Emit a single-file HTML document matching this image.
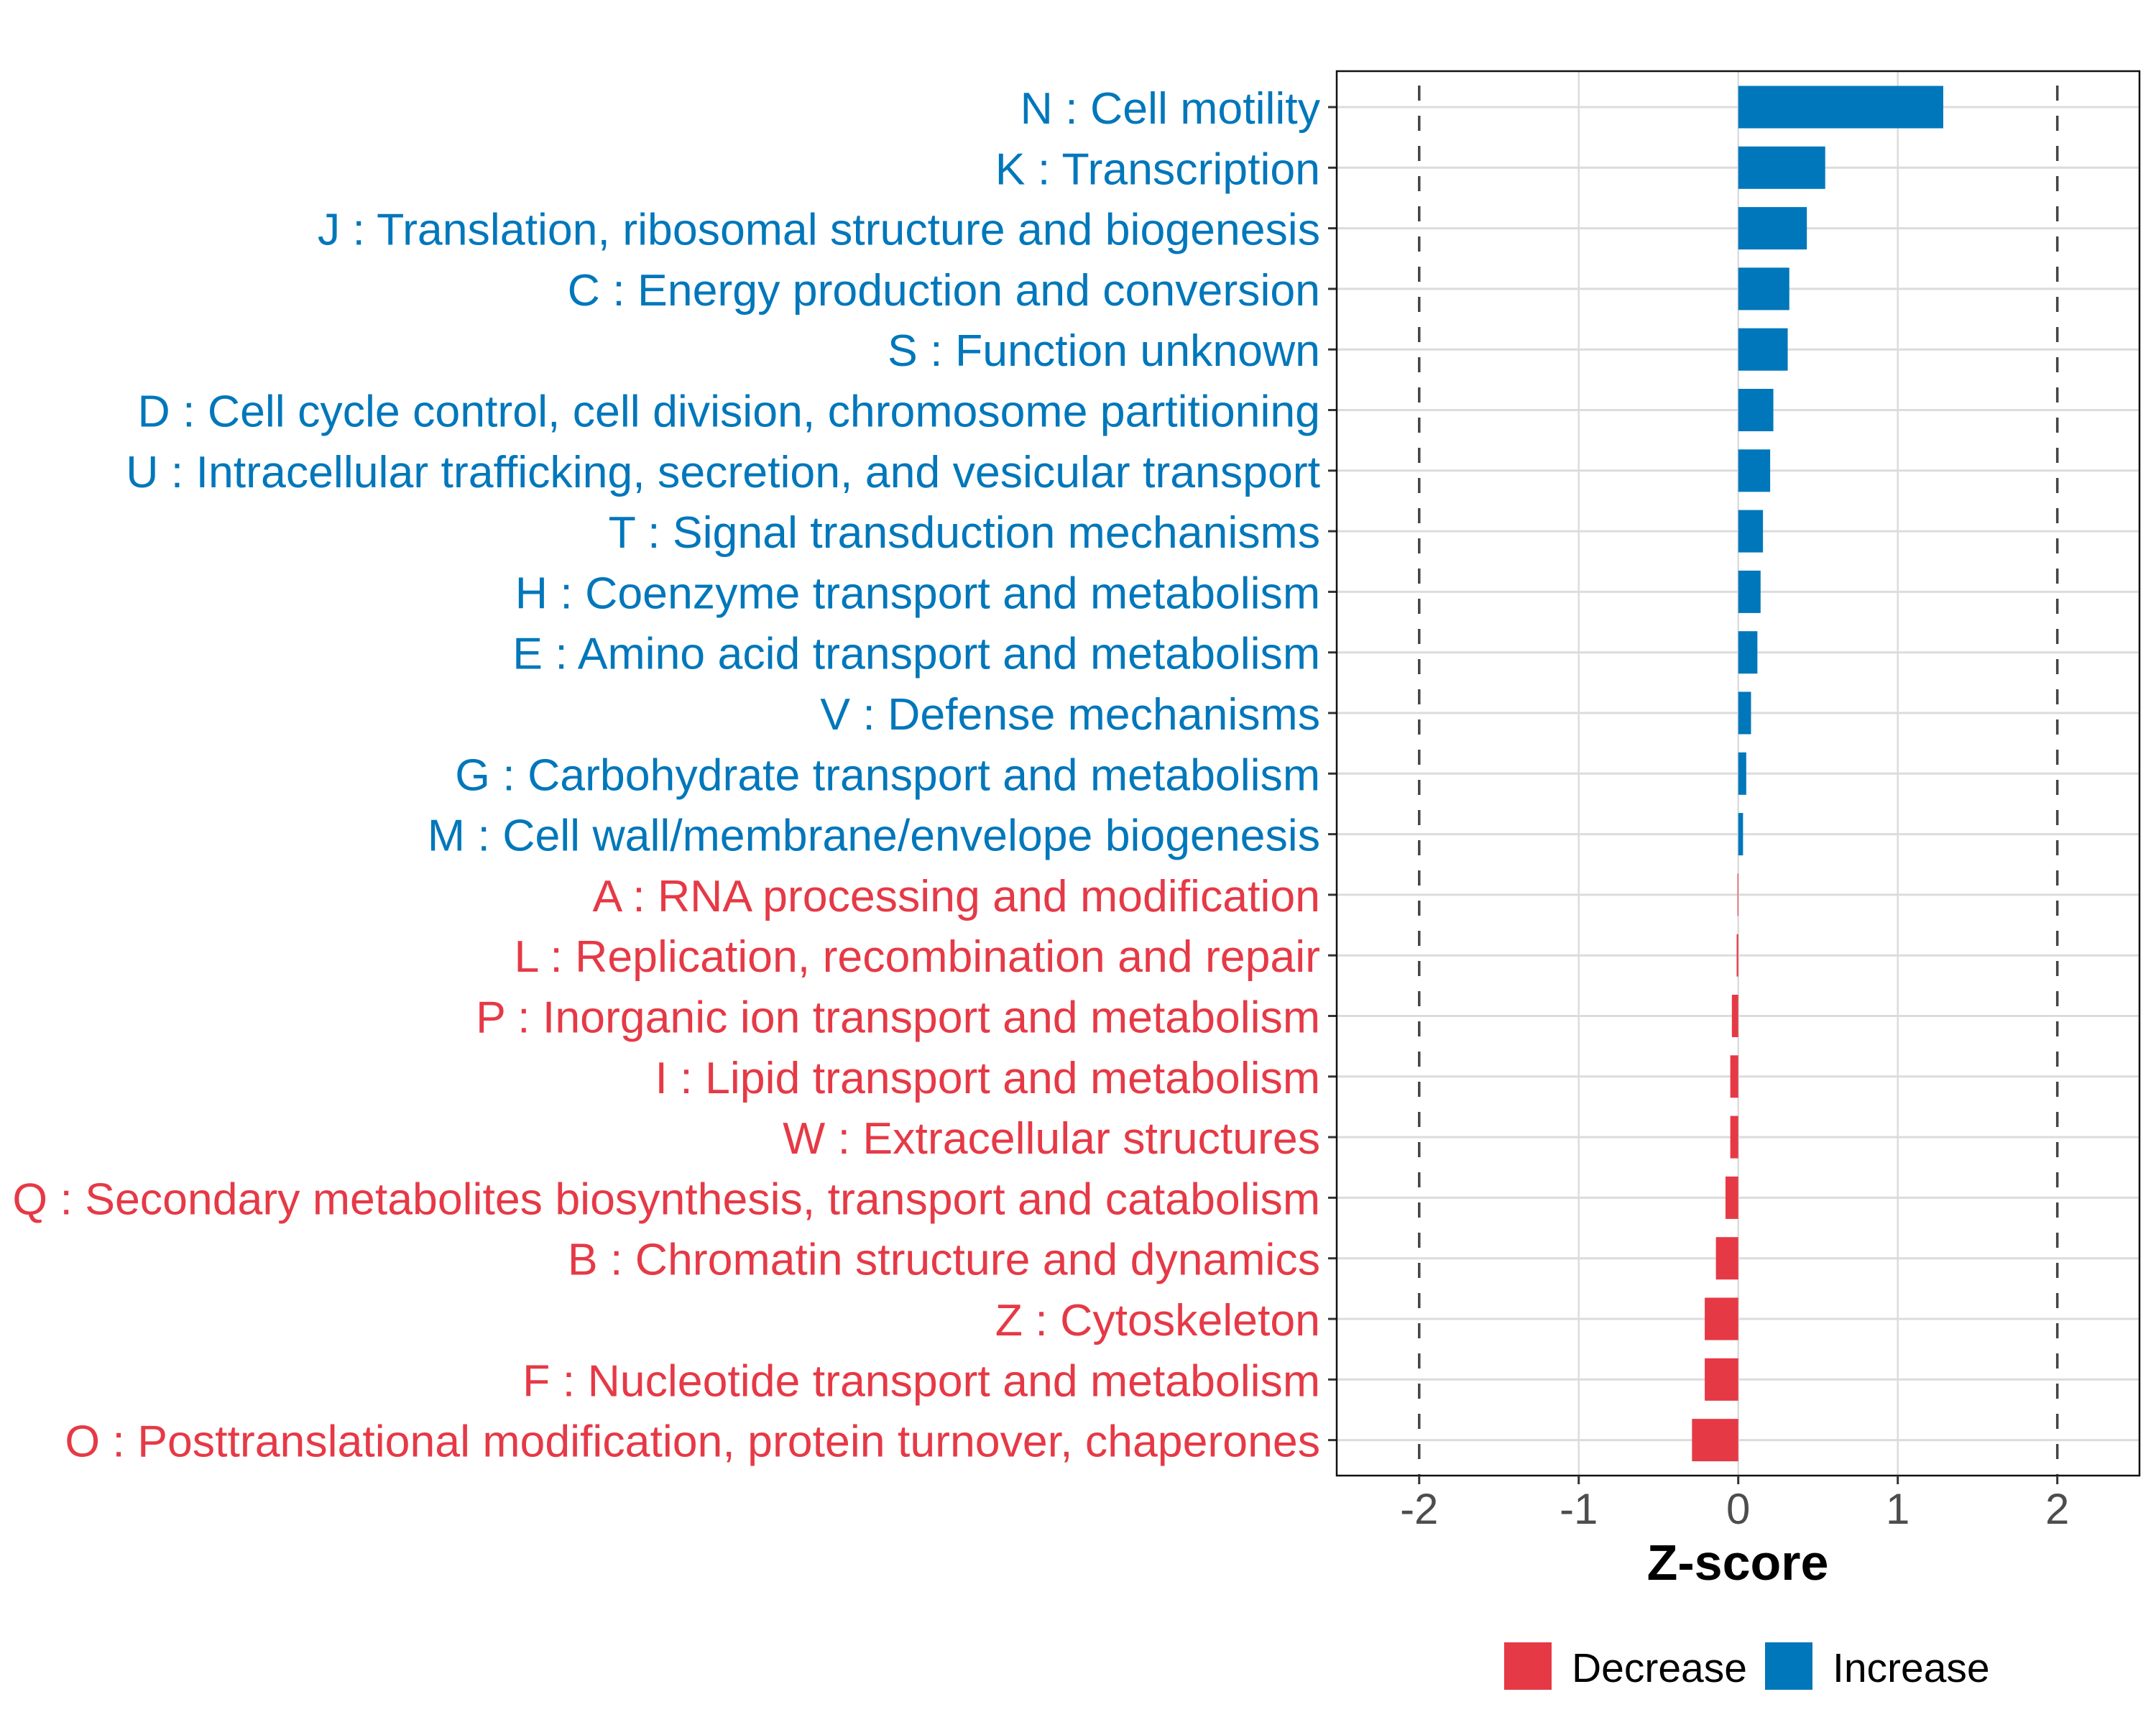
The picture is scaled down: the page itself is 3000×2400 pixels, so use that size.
<!DOCTYPE html>
<html><head><meta charset="utf-8"><style>
html,body{margin:0;padding:0;background:#fff;}
svg{display:block;font-family:"Liberation Sans",Arial,sans-serif;}
</style></head><body>
<svg id="chart" width="3000" height="2400" viewBox="0 0 3000 2400" xmlns="http://www.w3.org/2000/svg">
<rect x="0" y="0" width="3000" height="2400" fill="#fff"/>
<g id="grid"></g>
<g id="bars"></g>
<g id="ylabels"></g>
<g id="xaxis"></g>
<text x="2418" y="2198" font-size="70" font-weight="bold" text-anchor="middle" fill="#000">Z-score</text>
<g>
<rect x="2093" y="2285" width="66" height="66" fill="#E63946"/>
<text x="2187" y="2340" font-size="57" fill="#000">Decrease</text>
<rect x="2456" y="2285" width="66" height="66" fill="#0077BB"/>
<text x="2550" y="2340" font-size="57" fill="#000">Increase</text>
</g>
</svg>
<script>
const categories = [
"N : Cell motility","K : Transcription","J : Translation, ribosomal structure and biogenesis",
"C : Energy production and conversion","S : Function unknown",
"D : Cell cycle control, cell division, chromosome partitioning",
"U : Intracellular trafficking, secretion, and vesicular transport",
"T : Signal transduction mechanisms","H : Coenzyme transport and metabolism",
"E : Amino acid transport and metabolism","V : Defense mechanisms",
"G : Carbohydrate transport and metabolism","M : Cell wall/membrane/envelope biogenesis",
"A : RNA processing and modification","L : Replication, recombination and repair",
"P : Inorganic ion transport and metabolism","I : Lipid transport and metabolism",
"W : Extracellular structures","Q : Secondary metabolites biosynthesis, transport and catabolism",
"B : Chromatin structure and dynamics","Z : Cytoskeleton","F : Nucleotide transport and metabolism",
"O : Posttranslational modification, protein turnover, chaperones"];
const zscores = [1.285,0.545,0.43,0.32,0.31,0.22,0.20,0.155,0.14,0.12,0.08,0.05,0.03,-0.005,-0.01,-0.04,-0.05,-0.05,-0.08,-0.14,-0.21,-0.21,-0.29];
const xTicks = [-2,-1,0,1,2];
const xTickLabels = ["-2","-1","0","1","2"];
const thresholds = [-2,2];

const NS="http://www.w3.org/2000/svg";
const P={l:1860,r:2977,t:99,b:2053};
const xMin=-2.517,xMax=2.515;
function xs(v){return P.l+(v-xMin)/(xMax-xMin)*(P.r-P.l);}
const rowStep=84.3, row0=149;
function ys(i){return row0+i*rowStep;}
function mk(tag,attrs,parent){const e=document.createElementNS(NS,tag);for(const k in attrs)e.setAttribute(k,attrs[k]);parent.appendChild(e);return e;}
const grid=document.getElementById('grid'),bars=document.getElementById('bars'),yl=document.getElementById('ylabels'),xa=document.getElementById('xaxis');
xTicks.forEach(function(t){
  if(thresholds.indexOf(t)<0){
    const l=mk('line',{x1:xs(t),x2:xs(t),y1:P.t,y2:P.b,stroke:'#dcdcdc','stroke-width':2.5},grid);
    
    
  }
});
categories.forEach(function(c,i){
  const l=mk('line',{x1:P.l,x2:P.r,y1:ys(i),y2:ys(i),stroke:'#dcdcdc','stroke-width':3},grid);
  
  
});
categories.forEach(function(c,i){
  const v=zscores[i];const x0=xs(0),x1=xs(v);
  const r=mk('rect',{x:Math.min(x0,x1),y:ys(i)-29.5,width:Math.max(Math.abs(x1-x0),1),height:59,fill:v>=0?'#0077BB':'#E63946'},bars);
  
  
  const t=mk('text',{x:1837,y:ys(i)+23,'font-size':62.6,'text-anchor':'end',fill:v>=0?'#0077BB':'#E63946'},yl);
  t.textContent=c;
  
  
  const tk=mk('line',{x1:1848,x2:P.l,y1:ys(i),y2:ys(i),stroke:'#333','stroke-width':3},yl);
  
  
});
thresholds.forEach(function(t){
  const l=mk('line',{x1:xs(t),x2:xs(t),y1:P.t,y2:P.b,stroke:'#444','stroke-width':3.5,'stroke-dasharray':'21 21','stroke-dashoffset':'-20'},grid);
  
  
});
const fr=mk('rect',{x:P.l,y:P.t,width:P.r-P.l,height:P.b-P.t,fill:'none',stroke:'#111','stroke-width':2.5},xa);


xTicks.forEach(function(t,i){
  const tk=mk('line',{x1:xs(t),x2:xs(t),y1:P.b,y2:P.b+12,stroke:'#333','stroke-width':3},xa);
  
  
  const lb=mk('text',{x:xs(t),y:2120,'font-size':60,'text-anchor':'middle',fill:'#4d4d4d'},xa);
  lb.textContent=xTickLabels[i];
  
  
});
</script>
</body></html>
